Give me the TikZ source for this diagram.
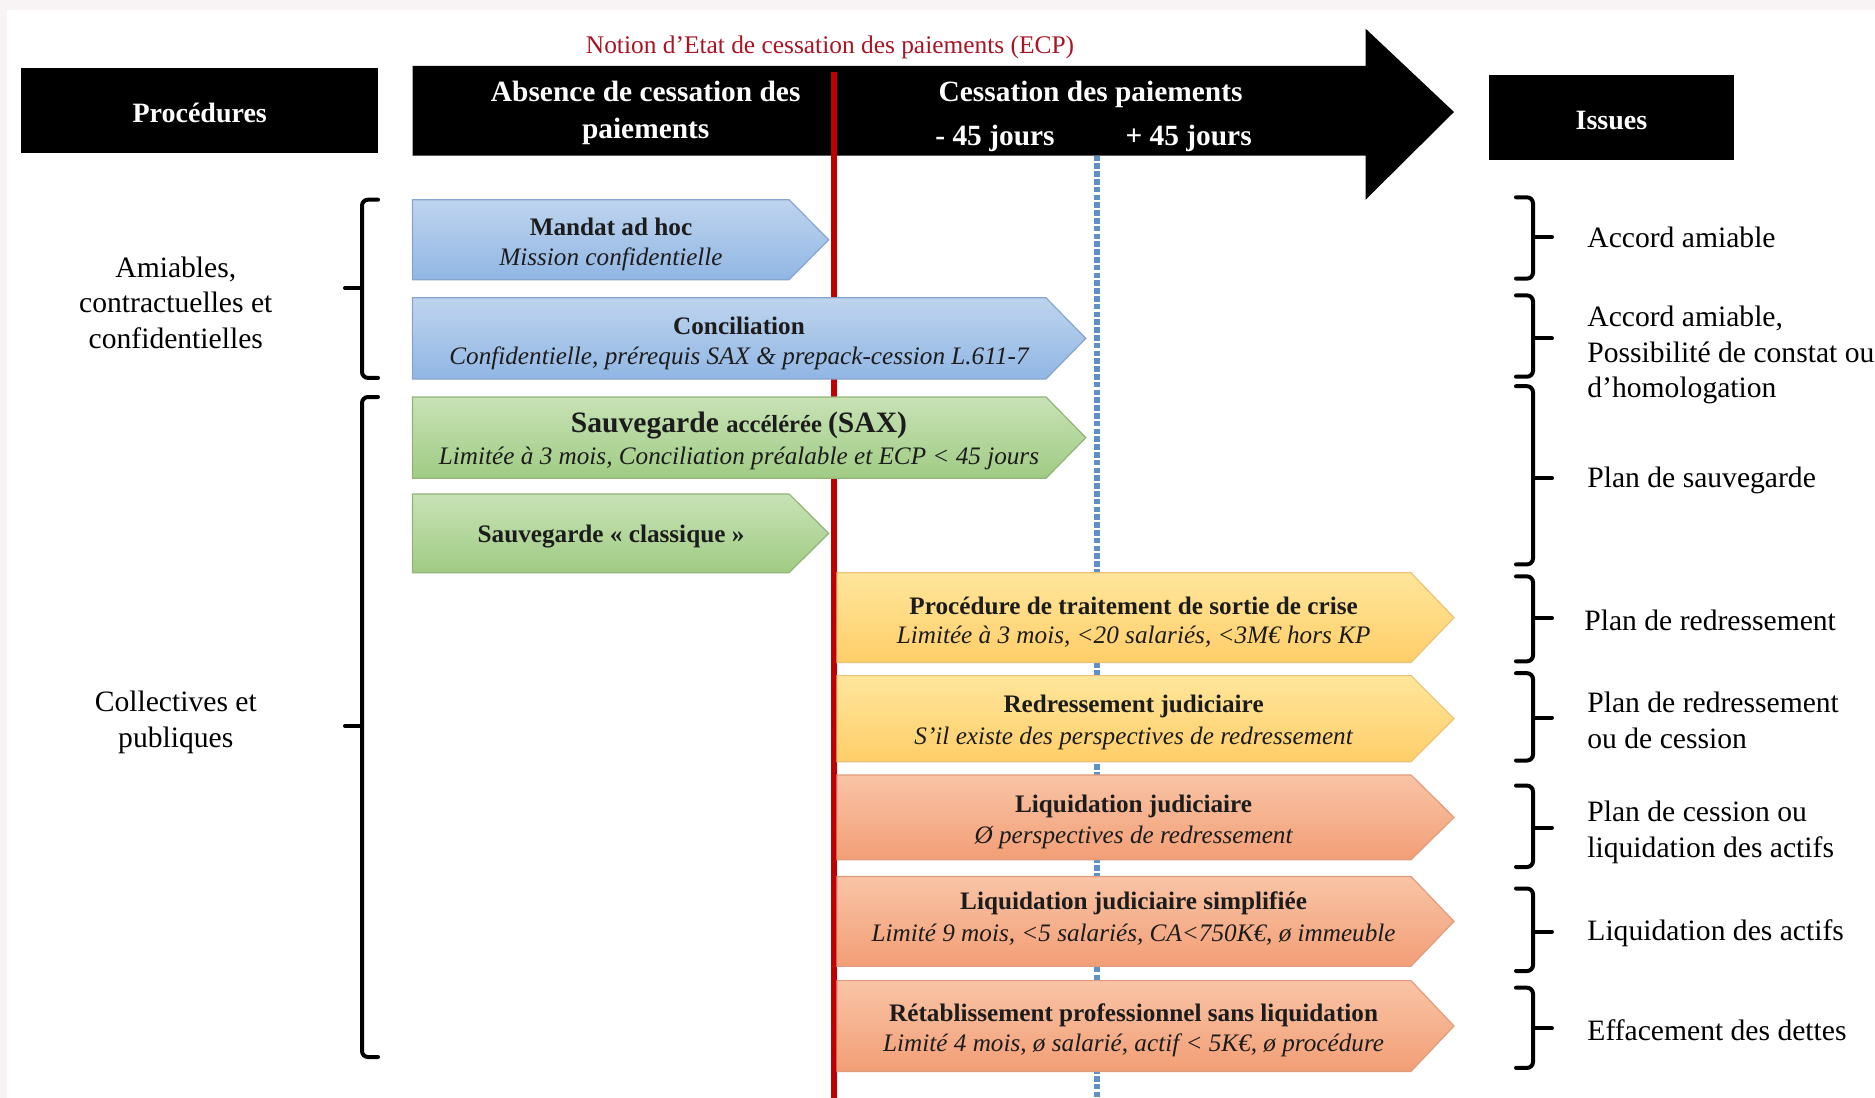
\documentclass[tikz,border=0pt]{standalone}
\usepackage{fontspec}
\setmainfont{Liberation Serif}
\definecolor{ecpred}{RGB}{192,0,0}
\definecolor{ecptext}{RGB}{170,20,35}
\definecolor{dashblue}{RGB}{95,145,200}
\definecolor{bluetop}{RGB}{190,212,238}
\definecolor{bluebot}{RGB}{145,182,228}
\definecolor{blueedge}{RGB}{135,165,205}
\definecolor{greentop}{RGB}{200,226,182}
\definecolor{greenbot}{RGB}{160,203,132}
\definecolor{greenedge}{RGB}{145,180,120}
\definecolor{yellowtop}{RGB}{255,230,155}
\definecolor{yellowbot}{RGB}{255,206,105}
\definecolor{yellowedge}{RGB}{235,195,120}
\definecolor{salmontop}{RGB}{249,196,166}
\definecolor{salmonbot}{RGB}{242,158,118}
\definecolor{salmonedge}{RGB}{225,155,125}
\definecolor{framegray}{RGB}{248,244,245}
\definecolor{darktext}{RGB}{28,28,28}
\begin{document}
\begin{tikzpicture}[x=0.5pt,y=-0.5pt,
  bluearrow/.style={top color=bluetop,bottom color=bluebot,draw=blueedge,line width=0.6pt},
  greenarrow/.style={top color=greentop,bottom color=greenbot,draw=greenedge,line width=0.6pt},
  yellowarrow/.style={top color=yellowtop,bottom color=yellowbot,draw=yellowedge,line width=0.6pt},
  salmonarrow/.style={top color=salmontop,bottom color=salmonbot,draw=salmonedge,line width=0.6pt},
  ttl/.style={font=\fontsize{12.6}{15}\selectfont\bfseries,text=darktext,inner sep=0pt},
  sub/.style={font=\fontsize{12.6}{15}\selectfont\itshape,text=darktext,inner sep=0pt},
  hdr/.style={font=\fontsize{14.7}{18.5}\selectfont\bfseries,text=white,inner sep=0pt,align=center},
  hdrbox/.style={fill=black,text=white,font=\fontsize{14}{17}\selectfont\bfseries,inner sep=0pt},
  side/.style={font=\fontsize{14.8}{17.7}\selectfont,inner sep=0pt,align=center},
  issue/.style={font=\fontsize{14.8}{17.9}\selectfont,inner sep=0pt,align=left,anchor=west},
  bracestyle/.style={line width=2pt,rounded corners=3pt,line cap=round}]

% background
\fill[framegray] (0,0) rectangle (1875,1098);
\fill[white] (7,10) rectangle (1875,1098);
\useasboundingbox (0,0) rectangle (1875,1098);

% big timeline arrow
\fill[black] (412.5,65.8) -- (1365.6,65.8) -- (1365.6,28.7) -- (1454,112)
  -- (1365.6,199.7) -- (1365.6,155.5) -- (412.5,155.5) -- cycle;

\node[font=\fontsize{12.7}{15}\selectfont,text=ecptext,inner sep=0pt] (ecplabel) at (830,47) {Notion d’Etat de cessation des paiements (ECP)};

\node[hdrbox,minimum width=178.25pt,minimum height=42.5pt] (proc) at (199.7,110.5) {};
\node[hdrbox,inner sep=0pt] (proctext) at (199.7,113) {Procédures};
\node[hdrbox,minimum width=122.6pt,minimum height=42.45pt] (issues) at (1611.4,117.75) {};
\node[hdrbox,inner sep=0pt] (issuestext) at (1611.4,120.5) {Issues};

\node[hdr] (absence) at (645.7,112.5) {Absence de cessation des\\paiements};
\node[hdr] (cessation) at (1090.6,94) {Cessation des paiements};
\node[hdr] (moins) at (995,138) {- 45 jours};
\node[hdr] (plus) at (1188.6,138) {+ 45 jours};

% vertical lines
\coordinate (ecptop) at (833.5,72);
\coordinate (ecpbot) at (833.5,1098);
\coordinate (djtop) at (1096.6,155.5);
\coordinate (djbot) at (1096.6,1098);
\draw[ecpred,line width=3pt] (ecptop) -- (ecpbot);
\draw[dashblue,line width=2.9pt,dash pattern=on 2.8pt off 1.1pt] (djtop) -- (djbot);

% procedure arrows
\path[bluearrow] (412.5,199.7) -- (789,199.7) -- (828.7,239.75) -- (789,279.8) -- (412.5,279.8) -- cycle;
\path[bluearrow] (412.5,297.8) -- (1046,297.8) -- (1085.8,338.4) -- (1046,379) -- (412.5,379) -- cycle;
\path[greenarrow] (412.5,397) -- (1046,397) -- (1085.8,437.65) -- (1046,478.3) -- (412.5,478.3) -- cycle;
\path[greenarrow] (412.5,493.9) -- (789,493.9) -- (828.7,533.35) -- (789,572.8) -- (412.5,572.8) -- cycle;
\path[yellowarrow] (837,572.8) -- (1411,572.8) -- (1454,617.65) -- (1411,662.5) -- (837,662.5) -- cycle;
\path[yellowarrow] (837,675.6) -- (1411,675.6) -- (1454,718.65) -- (1411,761.7) -- (837,761.7) -- cycle;
\path[salmonarrow] (837,774.9) -- (1411,774.9) -- (1454,817.35) -- (1411,859.8) -- (837,859.8) -- cycle;
\path[salmonarrow] (837,876.5) -- (1411,876.5) -- (1454,921.35) -- (1411,966.2) -- (837,966.2) -- cycle;
\path[salmonarrow] (837,980.6) -- (1411,980.6) -- (1454,1026) -- (1411,1071.4) -- (837,1071.4) -- cycle;

% arrow texts
\node[ttl] (mandat) at (611,226.5) {Mandat ad hoc};
\node[sub] (mandats) at (611,259) {Mission confidentielle};
\node[ttl] (concil) at (739,326) {Conciliation};
\node[sub] (concils) at (739,358) {Confidentielle, prérequis SAX \& prepack-cession L.611-7};
\node[ttl,font=\bfseries] (sax) at (739,425.5) {\fontsize{14.8}{17}\selectfont Sauvegarde \fontsize{12.3}{14}\selectfont accélérée \fontsize{14.8}{17}\selectfont (SAX)};
\node[sub] (saxs) at (739,458.6) {Limitée à 3 mois, Conciliation préalable et ECP < 45 jours};
\node[ttl] (classique) at (611,536.5) {Sauvegarde « classique »};
\node[ttl] (crise) at (1133.6,606) {Procédure de traitement de sortie de crise};
\node[sub] (crises) at (1133.6,637) {Limitée à 3 mois, <20 salariés, <3M€ hors KP};
\node[ttl] (redr) at (1133.6,706) {Redressement judiciaire};
\node[sub] (redrs) at (1133.6,738.4) {S’il existe des perspectives de redressement};
\node[ttl] (lj) at (1133.6,806) {Liquidation judiciaire};
\node[sub] (ljs) at (1133.6,837.7) {Ø perspectives de redressement};
\node[ttl] (ljsimp) at (1133.6,903.6) {Liquidation judiciaire simplifiée};
\node[sub] (ljsimps) at (1133.6,934.5) {Limité 9 mois, <5 salariés, CA<750K€, ø immeuble};
\node[ttl] (retab) at (1133.6,1015) {Rétablissement professionnel sans liquidation};
\node[sub] (retabs) at (1133.6,1045.7) {Limité 4 mois, ø salarié, actif < 5K€, ø procédure};

% left braces and labels
\draw[bracestyle] (378,199.7) -- (362,199.7) -- (362,377.9) -- (378,377.9);
\draw[bracestyle] (362,288) -- (345,288);
\draw[bracestyle] (378,397) -- (362,397) -- (362,1057) -- (378,1057);
\draw[bracestyle] (362,726) -- (345,726);
\node[side] (amiables) at (175.8,302.5) {Amiables,\\contractuelles et\\confidentielles};
\node[side] (collectives) at (175.8,722.5) {Collectives et\\publiques};

% right braces
\foreach \t/\m/\b in {197.3/236.8/278.6, 295.4/338.4/376.7, 386.2/478.3/564.4,
  576.4/618.2/661.3, 673.2/717.5/760.5, 785.6/827.5/867, 888.5/931.5/971, 987.7/1028.4/1067.9}{
  \draw[bracestyle] (1516,\t) -- (1533,\t) -- (1533,\b) -- (1516,\b);
  \draw[bracestyle] (1533,\m) -- (1552,\m);
}

% issues texts
\node[issue] (i1) at (1587,237.6) {Accord amiable};
\node[issue] (i2) at (1587,355) {Accord amiable,\\Possibilité de constat ou\\d’homologation};
\node[issue] (i3) at (1587,480.5) {Plan de sauvegarde};
\node[issue] (i4) at (1584,620.5) {Plan de redressement};
\node[issue] (i5) at (1587,720.5) {Plan de redressement\\ou de cession};
\node[issue] (i6) at (1587,832.5) {Plan de cession ou\\liquidation des actifs};
\node[issue] (i7) at (1587,933.5) {Liquidation des actifs};
\node[issue] (i8) at (1587,1030.5) {Effacement des dettes};
\end{tikzpicture}
\end{document}
